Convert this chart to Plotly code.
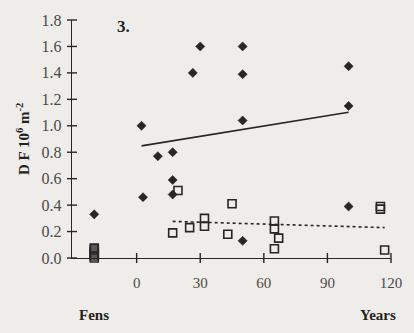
import numpy as np
import plotly.graph_objects as go

# Fens reference sites (drawn in their own column left of year 0)
FENS_X = -20
fens_diamond = [0.33]
fens_square = [0.0, 0.015, 0.03, 0.045, 0.06, 0.075]

# Filled diamonds: age (years) and density
dia_years = [2.3, 3, 10, 17, 17, 17, 26.5, 30, 50, 50, 50, 50, 100, 100, 100]
dia_vals = [1.0, 0.46, 0.77, 0.80, 0.59, 0.48, 1.40, 1.60, 1.60, 1.39, 1.04, 0.13, 1.45, 1.15, 0.39]

# Open squares: age (years) and density
sq_years = [17, 19.5, 25, 32, 32, 43, 45, 65, 65, 67, 65, 115, 115, 117]
sq_vals = [0.19, 0.51, 0.23, 0.30, 0.24, 0.18, 0.41, 0.28, 0.22, 0.15, 0.07, 0.39, 0.37, 0.06]

y_ticks = [0.0, 0.2, 0.4, 0.6, 0.8, 1.0, 1.2, 1.4, 1.6, 1.8]
x_ticks = [0, 30, 60, 90, 120]

INK = "#262626"
PAPER = "#eeede9"
SERIF = "Liberation Serif, Times New Roman, serif"

XR = [-30.5, 120]
YR = [0, 1.8]


def fit_line(xs, ys):
    slope, icpt = np.polyfit(xs, ys, 1)
    xx = np.array([min(xs), max(xs)])
    return xx, slope * xx + icpt


fig = go.Figure()

# regression lines
lx, ly = fit_line(dia_years, dia_vals)
fig.add_trace(go.Scatter(x=lx, y=ly, mode="lines",
                         line=dict(color=INK, width=1.6), hoverinfo="skip"))
sx, sy = fit_line(sq_years, sq_vals)
fig.add_trace(go.Scatter(x=sx, y=sy, mode="lines",
                         line=dict(color=INK, width=1.6, dash="dot"), hoverinfo="skip"))

# open squares
fig.add_trace(go.Scatter(x=sq_years + [FENS_X] * len(fens_square),
                         y=sq_vals + fens_square, mode="markers", cliponaxis=False,
                         marker=dict(symbol="square-open", size=8, color=INK,
                                     line=dict(width=1.6, color=INK))))
# filled diamonds
fig.add_trace(go.Scatter(x=dia_years + [FENS_X] * len(fens_diamond),
                         y=dia_vals + fens_diamond, mode="markers", cliponaxis=False,
                         marker=dict(symbol="diamond", size=7, color=INK,
                                     line=dict(width=0.6, color=INK))))

axis_common = dict(showgrid=False, zeroline=False, showline=True,
                   linecolor=INK, linewidth=1.4, ticks="")

fig.update_layout(
    width=414, height=333,
    margin=dict(l=72, r=16, t=16, b=75),
    paper_bgcolor=PAPER, plot_bgcolor=PAPER,
    showlegend=False,
    font=dict(family=SERIF, color="#4a4a4a", size=15),
    xaxis=dict(range=XR, tickvals=x_ticks, ticklabelstandoff=11, **axis_common),
    yaxis=dict(range=YR, tickvals=y_ticks, tickformat=".1f",
               ticklabelstandoff=6, tickfont=dict(size=16), **axis_common),
)

# tick marks that cross the axis lines (5 px each side), placed in paper units
for t in x_ticks:
    px = (t - XR[0]) / (XR[1] - XR[0])
    fig.add_shape(type="line", xref="paper", yref="paper", ysizemode="pixel", yanchor=0,
                  x0=px, x1=px, y0=-5, y1=5, line=dict(color=INK, width=1.4))
for t in y_ticks:
    py = (t - YR[0]) / (YR[1] - YR[0])
    fig.add_shape(type="line", xref="paper", yref="paper", xsizemode="pixel", xanchor=0,
                  y0=py, y1=py, x0=-5, x1=5, line=dict(color=INK, width=1.4))

ann_font = dict(family=SERIF, color="#222222", size=15)
fig.add_annotation(x=-6, y=1.75, xref="x", yref="y", text="<b>3.</b>",
                   showarrow=False, font=dict(family=SERIF, color="#222222", size=17))
fig.add_annotation(x=FENS_X, y=0, xref="x", yref="paper", yshift=-67,
                   text="<b>Fens</b>", showarrow=False, font=ann_font)
fig.add_annotation(x=114, y=0, xref="x", yref="paper", yshift=-67,
                   text="<b>Years</b>", showarrow=False, font=ann_font)
fig.add_annotation(x=0, y=0.5, xref="paper", yref="paper", xshift=-60,
                   text="<b>D F 10<sup>6</sup> m<sup>-2</sup></b>", textangle=-90,
                   showarrow=False, font=dict(family=SERIF, color="#222222", size=15))

fig.write_html("out.html")
